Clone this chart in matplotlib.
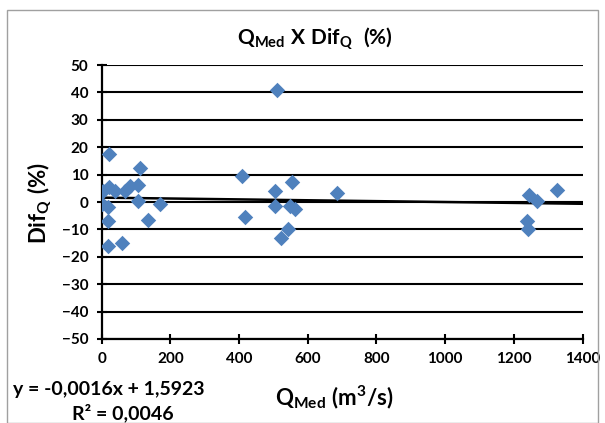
import numpy as np
import matplotlib.pyplot as plt
from matplotlib.patches import Rectangle

plt.rcParams['font.family'] = ['Lato', 'DejaVu Sans']
plt.rcParams['font.weight'] = 'bold'
plt.rcParams['mathtext.fontset'] = 'custom'
plt.rcParams['mathtext.rm'] = 'Lato:weight=bold'
plt.rcParams['mathtext.bf'] = 'Lato:weight=bold'
plt.rcParams['mathtext.it'] = 'Lato:weight=bold'

# Vazão medida (m3/s) e diferença (%)
q_med = [509, 410, 553, 504, 684, 504, 548, 563, 417, 543, 522,
         1324, 1245, 1266, 1237, 1242,
         21, 113, 5, 21, 39, 68, 84, 107, 107, 170, 0, 19, 19, 134, 19, 60]
dif_q = [40.8, 9.5, 7.4, 4.0, 3.4, -1.5, -1.5, -2.7, -5.5, -10.0, -13.0,
         4.4, 2.6, 0.4, -6.9, -10.0,
         17.7, 12.3, 4.0, 5.3, 4.0, 4.0, 5.8, 6.2, 0.4, -0.6, -0.6, -2.0, -6.9, -6.6, -16.0, -14.8]

# linha de tendência (Excel)
coef_a = -0.0016
coef_b = 1.5923
r2 = 0.0046

fig = plt.figure(figsize=(6.05, 4.23), dpi=100)
ax = fig.add_axes([0.168, 0.1986, 0.795, 0.6477])

# moldura externa
fig.patches.append(Rectangle((7 / 605, 0), 591 / 605, 1 - 10 / 423, transform=fig.transFigure,
                             fill=False, edgecolor='#a0a0a0', linewidth=1.0))

ax.scatter(q_med, dif_q, marker='D', s=62, color='#4F81BD', zorder=3, linewidths=0)

xt = np.array([0, 1400])
ax.plot(xt, coef_a * xt + coef_b, color='black', linewidth=1.8, zorder=2)

ax.set_xlim(0, 1400)
ax.set_ylim(-50, 50)
ax.set_xticks(range(0, 1401, 200))
ax.set_yticks(range(-50, 51, 10))
ax.yaxis.grid(True, color='black', linewidth=1.5)
ax.set_axisbelow(True)
for s in ['top', 'right']:
    ax.spines[s].set_visible(False)
for s in ['left', 'bottom']:
    ax.spines[s].set_linewidth(1.6)
ax.tick_params(direction='inout', length=7, width=1.5, labelsize=11, pad=6)
for lb in ax.get_xticklabels() + ax.get_yticklabels():
    lb.set_fontweight('bold')

fig.text(0.52, 0.908, r'$\mathrm{Q_{Med}\ X\ Dif_{Q}\ \ (\%)}$', ha='center', va='center', fontsize=15)
fig.text(0.065, 0.52, r'$\mathrm{Dif_{Q}\ (\%)}$', ha='center', va='center', fontsize=16, rotation=90)
fig.text(0.553, 0.062, r'$\mathrm{Q_{Med}\ (m^{3}/s)}$', ha='center', va='center', fontsize=16)
fig.text(0.18, 0.08, 'y = -0,0016x + 1,5923', ha='center', va='center', fontsize=14, fontweight='bold')
fig.text(0.203, 0.024, 'R² = 0,0046', ha='center', va='center', fontsize=14, fontweight='bold')

fig.savefig('out.png', dpi=100)
